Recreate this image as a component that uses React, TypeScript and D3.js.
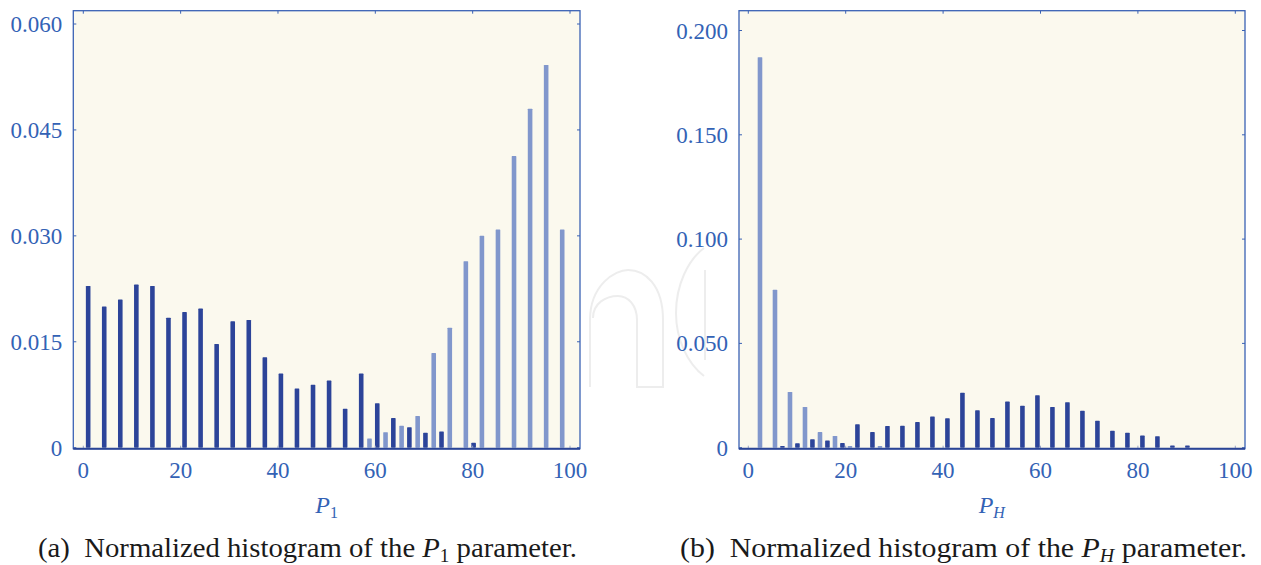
import React from "react";
import * as d3 from "d3";

// ---- data ----
const xTicks = [0, 20, 40, 60, 80, 100];
const p1YTicks = [0, 0.015, 0.03, 0.045, 0.06];
const p1YTickLabels = ["0", "0.015", "0.030", "0.045", "0.060"];
const phYTicks = [0, 0.05, 0.1, 0.15, 0.2];
const phYTickLabels = ["0", "0.050", "0.100", "0.150", "0.200"];

const p1BinWidth = 3.3;
const p1Dark = [
  0.0229, 0.02, 0.021, 0.0231, 0.0229, 0.0184, 0.0192, 0.0197, 0.0147, 0.0179,
  0.0181, 0.0128, 0.0105, 0.0084, 0.0089, 0.0095, 0.0055, 0.0105, 0.0063, 0.0042,
  0.0029, 0.0021, 0.0023, 0, 0.0007, 0, 0, 0, 0, 0,
];
const p1Light = [
  0, 0, 0, 0, 0, 0, 0, 0, 0, 0,
  0, 0, 0, 0, 0, 0, 0, 0.0013, 0.0022, 0.0031,
  0.0045, 0.0134, 0.017, 0.0264, 0.03, 0.0309, 0.0413, 0.048, 0.0542, 0.0309,
];

const phBinWidth = 3.08;
const phDark = [
  0, 0, 0.0008, 0.0021, 0.004, 0.0035, 0.0022, 0.0112, 0.0075, 0.0104,
  0.0105, 0.0123, 0.015, 0.0141, 0.0264, 0.0179, 0.0142, 0.0221, 0.0201, 0.0251,
  0.0195, 0.0218, 0.0177, 0.0129, 0.0081, 0.0072, 0.0058, 0.0055, 0.001, 0.001,
];
const phLight = [
  0.1872, 0.0757, 0.0267, 0.0195, 0.0075, 0.0056, 0.0008, 0, 0.0008, 0,
  0, 0, 0, 0, 0, 0, 0, 0, 0, 0,
  0, 0, 0, 0, 0, 0, 0, 0, 0, 0,
];

// ---- styles ----
const BG = "#fbf9ee";
const FRAME = "#3a62b4";
const AXIS = "#2b4595";
const DARK = "#2c4499";
const LIGHT = "#8197cc";
const LABEL = "#3362b5";
const FONT = "'Liberation Serif', 'Times New Roman', serif";

type PanelProps = {
  frame: { x0: number; x1: number; y0: number; y1: number };
  xRange: [number, number];
  yMax: number;
  yTop: number;
  yTicks: number[];
  yTickLabels: string[];
  binWidth: number;
  darkOff: number;
  lightOff: number;
  dark: number[];
  light: number[];
  sub: string;
  subItalic: boolean;
  captionLetter: string;
  captionCenter: number;
  captionWidth: number;
};

function Panel(p: PanelProps) {
  const x = d3.scaleLinear().domain([0, 100]).range(p.xRange);
  const y = d3.scaleLinear().domain([0, p.yMax]).range([447.7, p.yTop]);
  const { x0, x1, y0, y1 } = p.frame;
  const bw = 4.6;
  const bars: JSX.Element[] = [];
  p.dark.forEach((v, k) => {
    if (v <= 0) return;
    const cx = x(k * p.binWidth + p.darkOff);
    bars.push(
      <rect key={"d" + k} x={cx - bw / 2} y={y(v)} width={bw} height={y(0) - y(v)} fill={DARK} rx={0.6} />
    );
  });
  p.light.forEach((v, k) => {
    if (v <= 0) return;
    const cx = x(k * p.binWidth + p.lightOff);
    bars.push(
      <rect key={"l" + k} x={cx - bw / 2} y={y(v)} width={bw} height={y(0) - y(v)} fill={LIGHT} rx={0.6} />
    );
  });
  const midX = (x(0) + x(100)) / 2;
  return (
    <g>
      <rect x={x0} y={y0} width={x1 - x0} height={y1 - y0} fill={BG} />
      {bars}
      {xTicks.map((t) => (
        <g key={"xt" + t}>
          <line x1={x(t)} x2={x(t)} y1={y0} y2={y0 + 3} stroke={FRAME} strokeWidth={1} />
          <line x1={x(t)} x2={x(t)} y1={y1} y2={y1 - 3} stroke="#9aa6c8" strokeWidth={1} />
          <text x={x(t)} y={478} textAnchor="middle" fontFamily={FONT} fontSize={23} fill={LABEL}>
            {t}
          </text>
        </g>
      ))}
      {p.yTicks.map((t, i) => (
        <g key={"yt" + i}>
          <line x1={x0} x2={x0 + 3} y1={y(t)} y2={y(t)} stroke={FRAME} strokeWidth={1} />
          <line x1={x1} x2={x1 - 3} y1={y(t)} y2={y(t)} stroke={FRAME} strokeWidth={1} />
          <text x={x0 - 11} y={y(t) + 8} textAnchor="end" fontFamily={FONT} fontSize={23} fill={LABEL}>
            {p.yTickLabels[i]}
          </text>
        </g>
      ))}
      <rect x={x0} y={y0} width={x1 - x0} height={y1 - y0} fill="none" stroke={FRAME} strokeWidth={1.3} />
      <line x1={x0} x2={x1} y1={y1} y2={y1} stroke={AXIS} strokeWidth={2} />
      <text x={midX} y={513} textAnchor="middle" fontFamily={FONT} fontSize={24} fill={LABEL}>
        <tspan fontStyle="italic">P</tspan>
        <tspan fontSize={16} dy={5} fontStyle={p.subItalic ? "italic" : "normal"}>
          {p.sub}
        </tspan>
      </text>
      <text
        x={p.captionCenter}
        y={557}
        textAnchor="middle"
        fontFamily={FONT}
        fontSize={27}
        fill="#1a1a1a"
        textLength={p.captionWidth}
        lengthAdjust="spacingAndGlyphs"
      >
        <tspan>{"(" + p.captionLetter + ")\u00a0\u00a0Normalized histogram of the "}</tspan>
        <tspan fontStyle="italic">P</tspan>
        <tspan fontSize={18} dy={5} fontStyle={p.subItalic ? "italic" : "normal"}>
          {p.sub}
        </tspan>
        <tspan dy={-5}>{" parameter."}</tspan>
      </text>
    </g>
  );
}

export default function App() {
  return (
    <svg
      width={1261}
      height={565}
      style={{ position: "absolute", left: 0, top: 0, background: "#ffffff" }}
    >
      <rect x={0} y={0} width={1261} height={565} fill="#ffffff" />
      {/* faint watermark */}
      <g fill="none" stroke="#ededed" strokeWidth={2}>
        <path d="M590,387 L590,320 C590,285 615,270 628,270 C645,270 663,285 663,320 L663,387 L637,387 L637,320 C637,305 628,296 618,296 C606,296 593,303 593,318" />
        <path d="M704,248 C688,260 676,285 676,313 C676,340 688,364 704,376" />
        <path d="M705,270 L705,360" />
      </g>
      <Panel
        frame={{ x0: 73.3, x1: 580, y0: 10.7, y1: 448.7 }}
        xRange={[83.3, 570]}
        yMax={0.06}
        yTop={24}
        yTicks={p1YTicks}
        yTickLabels={p1YTickLabels}
        binWidth={p1BinWidth}
        darkOff={1.0}
        lightOff={2.7}
        dark={p1Dark}
        light={p1Light}
        sub="1"
        subItalic={false}
        captionLetter="a"
        captionCenter={307.5}
        captionWidth={539}
      />
      <Panel
        frame={{ x0: 739, x1: 1245, y0: 10.7, y1: 448.7 }}
        xRange={[748.3, 1235.3]}
        yMax={0.2}
        yTop={30.5}
        yTicks={phYTicks}
        yTickLabels={phYTickLabels}
        binWidth={phBinWidth}
        darkOff={0.85}
        lightOff={2.4}
        dark={phDark}
        light={phLight}
        sub="H"
        subItalic={true}
        captionLetter="b"
        captionCenter={963.5}
        captionWidth={567}
      />
    </svg>
  );
}
